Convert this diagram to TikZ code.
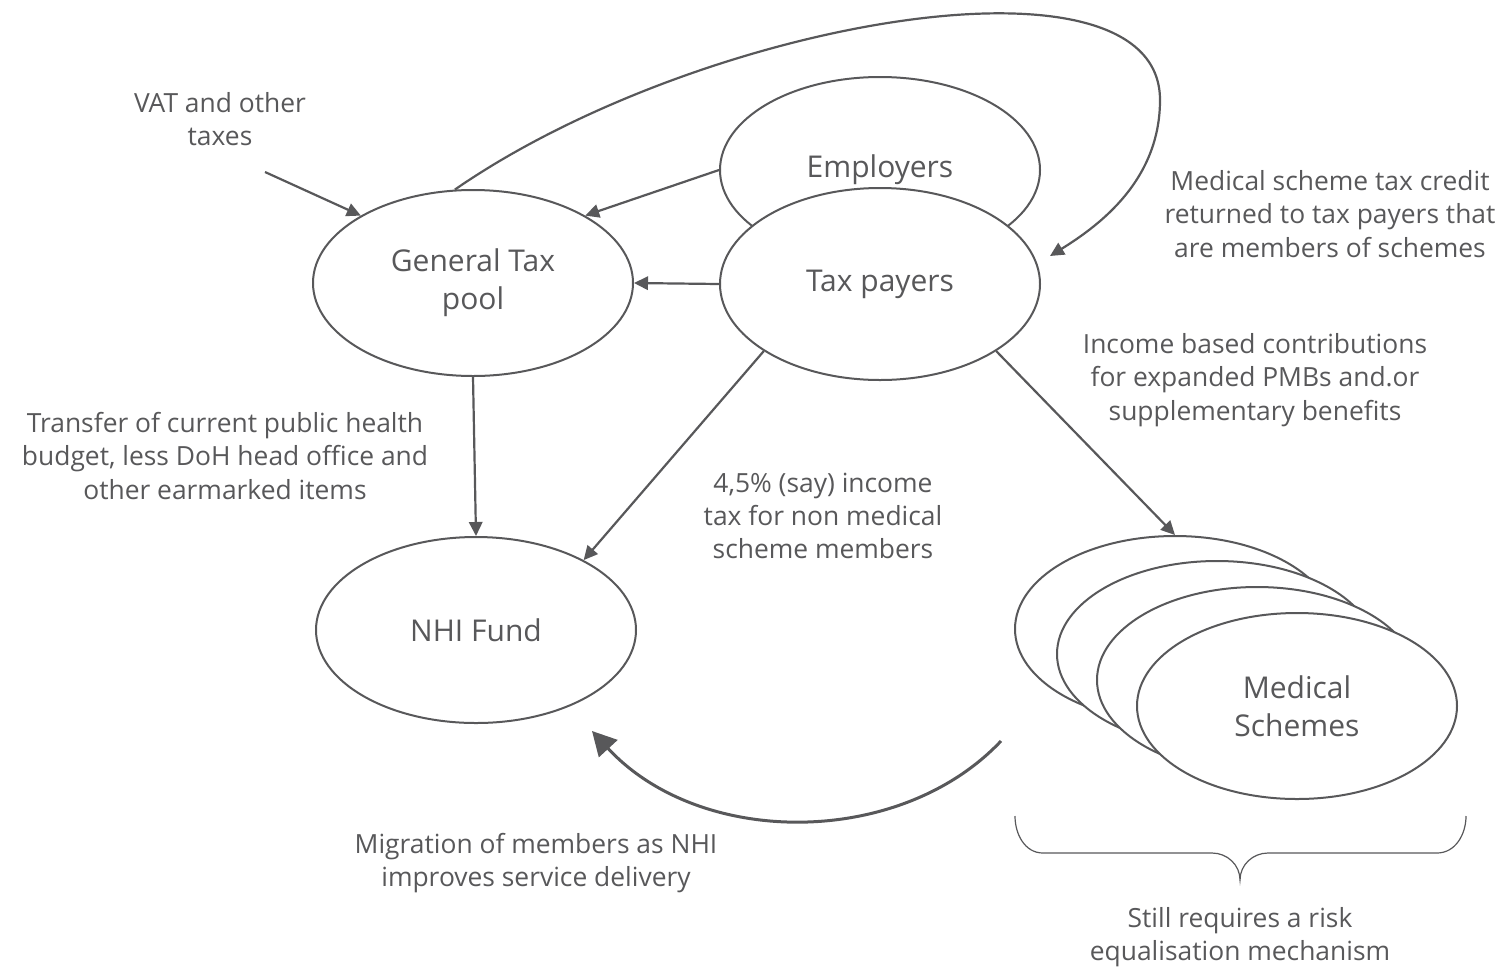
\documentclass[tikz,border=0pt]{standalone}
\usepackage{fontspec}
\setmainfont{Open Sans}
\usetikzlibrary{arrows.meta,shapes.geometric}
\definecolor{ink}{HTML}{58585A}
\tikzset{
  blob/.style={ellipse, draw=ink, line width=1pt, fill=white, inner sep=0pt,
    minimum width=160pt, minimum height=93pt, text=ink, align=center,
    font=\fontsize{15}{19}\selectfont},
  note/.style={text=ink, align=center, font=\fontsize{13.2}{16.6}\selectfont},
  flow/.style={draw=ink, line width=1.1pt, -{Triangle[length=7pt,width=6.7pt]}}
}
\begin{document}
\begin{tikzpicture}[x=0.5pt,y=-0.5pt]
      \useasboundingbox (0,0) rectangle (1504,970);
      \node[blob] (emp) at (880,170) {Employers};
      \node[blob, minimum height=96pt] (tax) at (880,284) {Tax payers};
      \node[blob] (gtp) at (473,283) {General Tax\\pool};
      \node[blob] (nhi) at (476,630) {NHI Fund};
      \node[blob] (med1) at (1175,629) {};
      \node[blob] (med2) at (1217,654) {};
      \node[blob] (med3) at (1257,680) {};
      \node[blob] (med4) at (1297,706) {Medical\\Schemes};
      \coordinate (vatin) at (265,172);
      \coordinate (credit) at (1050,256);
      \coordinate (migout) at (1001,741);
      \coordinate (migin) at (592,731);
      \node[note] (vat) at (220,119) {VAT and other\\taxes};
      \node[note] (creditlbl) at (1330,214) {Medical scheme tax credit\\returned to tax payers that\\are members of schemes};
      \node[note] (income) at (1255,380) {Income based contributions\\for expanded PMBs and.or\\supplementary benefits};
      \node[note] (transfer) at (225,456) {Transfer of current public health\\budget, less DoH head office and\\other earmarked items};
      \node[note] (levy) at (823,516) {4,5\% (say) income\\tax for non medical\\scheme members};
      \node[note] (migration) at (536,863) {Migration of members as NHI\\improves service delivery};
      \node[note] (risk) at (1240,937) {Still requires a risk\\equalisation mechanism};
      \begin{scope}[flow]
        \draw (vatin) -- (gtp.149);
        \draw (emp.west) -- (gtp.31);
        \draw (tax.west) -- (gtp.east);
        \draw (gtp.south) -- (nhi.north);
        \draw (tax.210) -- (nhi.33);
        \draw (tax.-30) -- (med1.north);
        \draw (gtp.101) .. controls (700,20) and (1160,-60) .. (1160,100)
          .. controls (1160,180) and (1100,225) .. (credit);
      \end{scope}
      \draw[draw=ink, line width=1.5pt, -{Triangle[length=12pt,width=12.5pt]}]
        (migout) .. controls (900,848) and (700,848) .. (migin);
      % brace under the schemes
      \draw[ink, line width=0.6pt] (1015,816) to[out=-90,in=180] (1043,853) -- (1212,853)
        to[out=0,in=90] (1240,880) to[out=90,in=180] (1268,853) -- (1437,853)
        to[out=0,in=-90] (1466,816);
    \end{tikzpicture}
\end{document}
